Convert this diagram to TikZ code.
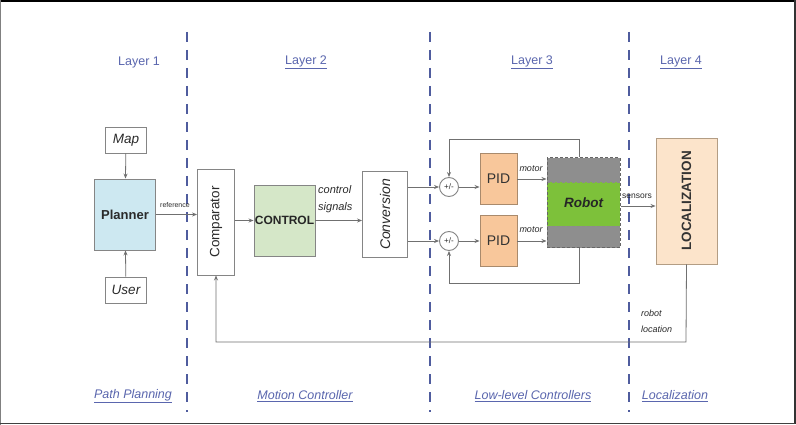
\documentclass[tikz,border=0pt]{standalone}
\usepackage{fontspec}
\setmainfont{Liberation Sans}
\usetikzlibrary{arrows.meta,calc}
\definecolor{dashblue}{HTML}{4F5C9E}
\definecolor{lblblue}{HTML}{5A66AE}
\definecolor{edgegray}{HTML}{858585}
\definecolor{lineg}{HTML}{707070}
\definecolor{plannerfill}{HTML}{CDE8F1}
\definecolor{controlfill}{HTML}{D5E7C8}
\definecolor{pidfill}{HTML}{F8C79B}
\definecolor{pidedge}{HTML}{A98A6C}
\definecolor{robotgray}{HTML}{8E8E8E}
\definecolor{robotgreen}{HTML}{7DC13A}
\definecolor{locfill}{HTML}{FCE4CB}
\definecolor{locedge}{HTML}{B39D84}
\definecolor{txtdark}{HTML}{2A2A2A}
\begin{document}
\begin{tikzpicture}[x=1pt,y=-1pt,
  box/.style={draw=edgegray, line width=0.9pt, inner sep=0pt, text=txtdark},
  arr/.style={draw=lineg, line width=0.8pt, -{Stealth[length=5pt,width=4pt]}},
  divider/.style={draw=dashblue, line width=2pt, dash pattern=on 10pt off 8pt},
  layerlbl/.style={text=lblblue, font=\fontsize{12.5}{14}\selectfont},
  footlbl/.style={text=lblblue, font=\fontsize{12.5}{14}\selectfont\itshape},
  small/.style={text=txtdark, font=\fontsize{9}{10}\selectfont\itshape, inner sep=1pt},
  sumnode/.style={circle, draw=edgegray, line width=0.9pt, fill=white, minimum size=19pt, inner sep=0pt, font=\fontsize{8}{9}\selectfont, text=txtdark}]
\useasboundingbox (0,0) rectangle (796,425);
\fill[white] (0,0) rectangle (796,425);
% frame
\draw[black, line width=2.5pt] (0,1) -- (796,1);
\draw[gray, line width=1pt] (0.5,0) -- (0.5,425);
\draw[black!80, line width=2pt] (794.5,0) -- (794.5,424);
\draw[black!75, line width=1.6pt] (0,423.3) -- (795,423.3);

% dividers
\coordinate (d1t) at (187,32); \coordinate (d1b) at (187,412);
\coordinate (d2t) at (430,32); \coordinate (d2b) at (430,412);
\coordinate (d3t) at (629,32); \coordinate (d3b) at (629,412);
\draw[divider] (d1t) -- (d1b);
\draw[divider] (d2t) -- (d2b);
\draw[divider] (d3t) -- (d3b);

% layer labels
\node[layerlbl] (l1) at (139,62) {Layer 1};
\node[layerlbl] (l2) at (306,62) {\underline{Layer 2}};
\node[layerlbl] (l3) at (532,62) {\underline{Layer 3}};
\node[layerlbl] (l4) at (681,62) {\underline{Layer 4}};
\node[footlbl] (f1) at (133,396) {\underline{Path Planning}};
\node[footlbl] (f2) at (305,396) {\underline{Motion Controller}};
\node[footlbl] (f3) at (533,396) {\underline{Low-level Controllers}};
\node[footlbl] (f4) at (675,396) {\underline{Localization}};

% layer 1
\node[box, minimum width=41pt, minimum height=26pt, font=\fontsize{13.5}{14}\selectfont\itshape] (map) at (126,140) {Map};
\node[box, fill=plannerfill, minimum width=61pt, minimum height=71pt, font=\fontsize{13}{14}\selectfont\bfseries] (planner) at (125,214.5) {Planner};
\node[box, minimum width=41pt, minimum height=26pt, font=\fontsize{13.5}{14}\selectfont\itshape] (user) at (126,290) {User};
\draw[arr] (map) -- (planner);
\draw[arr] (user) -- (planner);

% layer 2
\node[box, minimum width=37pt, minimum height=106pt] (comp) at (216,222) {};
\node[rotate=90, font=\fontsize{13.5}{14}\selectfont, text=txtdark] (comptxt) at (216,222) {Comparator};
\node[box, fill=controlfill, minimum width=61pt, minimum height=71pt, font=\fontsize{12}{13}\selectfont\bfseries, text=black!85] (control) at (284.5,220.5) {CONTROL};
\node[box, minimum width=45pt, minimum height=86pt] (conv) at (385,214.5) {};
\node[rotate=90, font=\fontsize{14}{15}\selectfont\itshape, text=txtdark] (convtxt) at (385,214.5) {Conversion};

\draw[arr] (planner.east) -- (planner.east -| comp.west);
\node[small, font=\fontsize{7}{8}\selectfont] (reflbl) at (175,205) {reference};
\draw[arr] (control.west -| comp.east) -- (control.west);
\draw[arr] (control.east) -- (control.east -| conv.west);
\node[small, font=\fontsize{11}{17}\selectfont\itshape, align=left, anchor=west] (ctlbl) at (317,199) {control\\signals};

% layer 3
\node[sumnode] (sum1) at (449,187) {+/-};
\node[sumnode] (sum2) at (449,241) {+/-};
\node[box, draw=pidedge, fill=pidfill, minimum width=37pt, minimum height=51pt, font=\fontsize{14}{15}\selectfont, text=black!80] (pid1) at (498.5,179) {PID};
\node[box, draw=pidedge, fill=pidfill, minimum width=37pt, minimum height=51pt, font=\fontsize{14}{15}\selectfont, text=black!80] (pid2) at (498.5,241) {PID};
\node[draw=black!60, dash pattern=on 3pt off 2pt, line width=1pt, minimum width=73pt, minimum height=90pt, inner sep=0pt,
  font=\fontsize{13.5}{15}\selectfont\bfseries\itshape, text=black!85,
  path picture={
    \fill[robotgray] (path picture bounding box.north west) rectangle ([yshift=-24pt]path picture bounding box.north east);
    \fill[robotgreen] ([yshift=-24pt]path picture bounding box.north west) rectangle ([yshift=22pt]path picture bounding box.south east);
    \fill[robotgray] ([yshift=22pt]path picture bounding box.south west) rectangle (path picture bounding box.south east);
    \draw[black!45, line width=0.8pt] ([yshift=-24pt]path picture bounding box.north west) -- ([yshift=-24pt]path picture bounding box.north east);
    \draw[black!45, line width=0.8pt] ([yshift=22pt]path picture bounding box.south west) -- ([yshift=22pt]path picture bounding box.south east);
  }] (robot) at (583.5,203) {Robot};

\draw[arr] (conv.east |- sum1) -- (sum1.west);
\draw[arr] (conv.east |- sum2) -- (sum2.west);
\draw[arr] (sum1.east) -- (sum1.east -| pid1.west);
\draw[arr] (sum2.east) -- (sum2.east -| pid2.west);
\draw[arr] (pid1.east) -- (pid1.east -| robot.west);
\draw[arr] (pid2.east) -- (pid2.east -| robot.west);
\node[small, font=\fontsize{9}{10}\selectfont\itshape] (m1) at (531,169) {motor};
\node[small, font=\fontsize{9}{10}\selectfont\itshape] (m2) at (531,230) {motor};

\coordinate (fbtop) at (579,139);
\coordinate (fbbot) at (579,283);
\draw[arr] (robot.north -| fbtop) -- (fbtop) -- (fbtop -| sum1) -- (sum1.north);
\draw[arr] (robot.south -| fbbot) -- (fbbot) -- (fbbot -| sum2) -- (sum2.south);

% layer 4
\node[box, draw=locedge, fill=locfill, minimum width=61pt, minimum height=126pt, inner sep=0pt] (loc) at (686.5,201) {};
\node[rotate=90, font=\fontsize{13.5}{15}\selectfont\bfseries, text=black!80] (loctxt) at (686.5,201) {LOCALIZATION};
\draw[arr] ([yshift=-3pt]robot.east) -- ([yshift=-3pt]robot.east -| loc.west);
\node[small, font=\fontsize{8.5}{9}\selectfont] (senslbl) at (637,196) {sensors};

\coordinate (rl) at (686,342);
\draw[arr] (loc.south) -- (rl) -- (rl -| comp.south) -- (comp.south);
\node[small, align=left, anchor=west, font=\fontsize{9}{16}\selectfont\itshape] (rllbl) at (640,321) {robot\\location};
\end{tikzpicture}
\end{document}
